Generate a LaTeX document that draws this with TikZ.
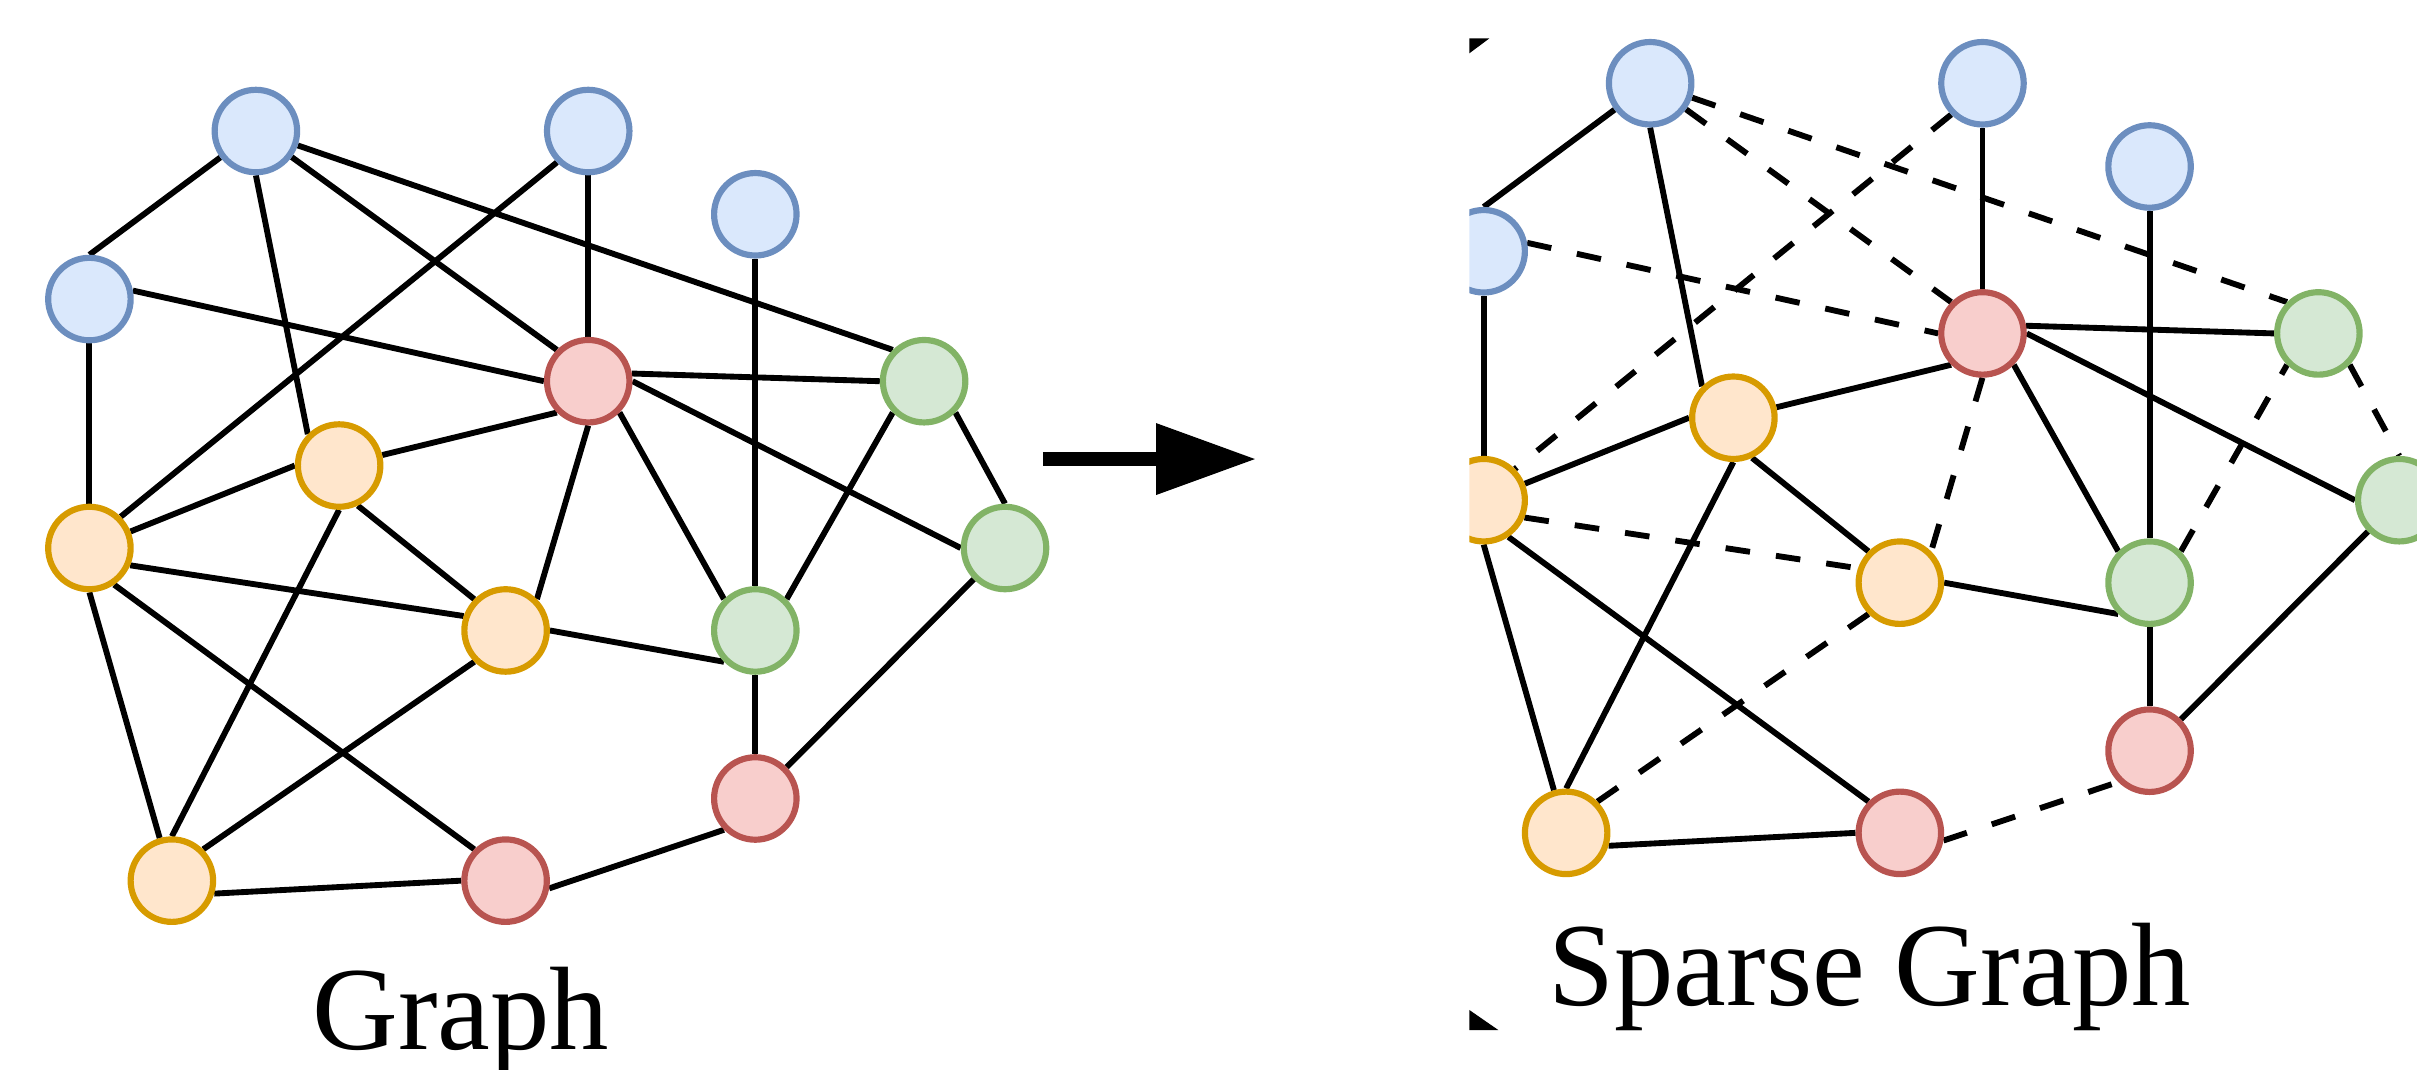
\documentclass[tikz,border=0pt]{standalone}
\usepackage{fontspec}
\setmainfont{Liberation Serif}
\usetikzlibrary{arrows.meta}
\definecolor{bfill}{HTML}{DAE8FC}\definecolor{bdraw}{HTML}{6C8EBF}
\definecolor{rfill}{HTML}{F8CECC}\definecolor{rdraw}{HTML}{B85450}
\definecolor{gfill}{HTML}{D5E8D4}\definecolor{gdraw}{HTML}{82B366}
\definecolor{ofill}{HTML}{FFE6CC}\definecolor{odraw}{HTML}{D79B00}
\pgfdeclarelayer{bg}
\pgfsetlayers{bg,main}
\begin{document}
\begin{tikzpicture}[x=1pt,y=-1pt,
  vtx/.style={circle,minimum size=53.5pt,inner sep=0pt,line width=4pt},
  vb/.style={vtx,fill=bfill,draw=bdraw},
  vr/.style={vtx,fill=rfill,draw=rdraw},
  vg/.style={vtx,fill=gfill,draw=gdraw},
  vo/.style={vtx,fill=ofill,draw=odraw},
  edge/.style={line width=3.8pt,black},
  dsh/.style={edge,dash pattern=on 16pt off 17pt},
  lbl/.style={font=\fontsize{77}{90}\selectfont,inner sep=0pt,anchor=base}]
\useasboundingbox (0,0) rectangle (1568,694);
% ---------- left graph ----------
\node[vb] (B1) at (166,85) {};
\node[vb] (B2) at (381.6,85) {};
\node[vb] (B3) at (490,139) {};
\node[vb] (B4) at (58,194) {};
\node[vr] (R1) at (381.6,247.3) {};
\node[vg] (G1) at (599.5,247.3) {};
\node[vo] (O1) at (220,302) {};
\node[vo] (O2) at (58,355.5) {};
\node[vg] (G2) at (652,355.5) {};
\node[vo] (O3) at (328,409) {};
\node[vg] (G3) at (490,409) {};
\node[vr] (R2) at (490,518) {};
\node[vo] (O4) at (111.5,571.3) {};
\node[vr] (R3) at (328,571.3) {};
% ---------- right graph (clipped) ----------
\begin{scope}
\clip (953.2,24.9) rectangle (1568,668.2);
\begin{scope}[shift={(904.5,-31)}]
\node[vb] (b1) at (166,85) {};
\node[vb] (b2) at (381.6,85) {};
\node[vb] (b3) at (490,139) {};
\node[vb] (b4) at (58,194) {};
\node[vr] (r1) at (381.6,247.3) {};
\node[vg] (g1) at (599.5,247.3) {};
\node[vo] (o1) at (220,302) {};
\node[vo] (o2) at (58,355.5) {};
\node[vg] (g2) at (652,355.5) {};
\node[vo] (o3) at (328,409) {};
\node[vg] (g3) at (490,409) {};
\node[vr] (r2) at (490,518) {};
\node[vo] (o4) at (111.5,571.3) {};
\node[vr] (r3) at (328,571.3) {};
\end{scope}
\end{scope}
% ---------- edges ----------
\begin{pgfonlayer}{bg}
\draw[edge] (B1) -- (B4.north);
\draw[edge] (B1.south) -- (O1.north west);
\draw[edge] (B1) -- (R1.north west);
\draw[edge] (B1) -- (G1.north west);
\draw[edge] (B2) -- (R1);
\draw[edge] (B2.south west) -- (O2.north east);
\draw[edge] (B3) -- (G3);
\draw[edge] (B4.11) -- (R1.west);
\draw[edge] (B4) -- (O2);
\draw[edge] (R1.10) -- (G1.west);
\draw[edge] (O1) -- (R1.south west);
\draw[edge] (R1.south) -- (O3.north east);
\draw[edge] (R1.south east) -- (G3.north west);
\draw[edge] (R1.east) -- (G2.west);
\draw[edge] (G3.north east) -- (G1.south west);
\draw[edge] (G1.south east) -- (G2.north);
\draw[edge] (O2) -- (O1.west);
\draw[edge] (O1.south) -- (O4.north);
\draw[edge] (O1.-65) -- (O3.north west);
\draw[edge] (O2.-23) -- (O3.161);
\draw[edge] (O2.-56) -- (R3.north west);
\draw[edge] (O2.south) -- (O4);
\draw[edge] (O4.north east) -- (O3.south west);
\draw[edge] (O4.-17) -- (R3.west);
\draw[edge] (R3.-10) -- (R2.south west);
\draw[edge] (R2) -- (G3);
\draw[edge] (R2.north east) -- (G2.south west);
\draw[edge] (O3.east) -- (G3.south west);
\begin{scope}
\clip (953.2,24.9) rectangle (1568,668.2);
\draw[edge] (b1) -- (b4.north);
\draw[edge] (b1.south) -- (o1.north west);
\draw[dsh] (b1) -- (r1.north west);
\draw[dsh] (b1) -- (g1.north west);
\draw[edge] (b2) -- (r1);
\draw[dsh] (b2.south west) -- (o2.north east);
\draw[edge] (b3) -- (g3);
\draw[dsh] (b4.11) -- (r1.west);
\draw[edge] (b4) -- (o2);
\draw[edge] (r1.10) -- (g1.west);
\draw[edge] (o1) -- (r1.south west);
\draw[dsh] (r1.south) -- (o3.north east);
\draw[edge] (r1.south east) -- (g3.north west);
\draw[edge] (r1.east) -- (g2.west);
\draw[dsh] (g3.north east) -- (g1.south west);
\draw[dsh] (g1.south east) -- (g2.north);
\draw[edge] (o2) -- (o1.west);
\draw[edge] (o1.south) -- (o4.north);
\draw[edge] (o1.-65) -- (o3.north west);
\draw[dsh] (o2.-23) -- (o3.161);
\draw[edge] (o2.-56) -- (r3.north west);
\draw[edge] (o2.south) -- (o4);
\draw[dsh] (o4.north east) -- (o3.south west);
\draw[edge] (o4.-17) -- (r3.west);
\draw[dsh] (r3.-10) -- (r2.south west);
\draw[edge] (r2) -- (g3);
\draw[edge] (r2.north east) -- (g2.south west);
\draw[edge] (o3.east) -- (g3.south west);
\end{scope}
\end{pgfonlayer}
% ---------- corner marks of the cropped picture ----------
\fill[black] (953.2,24.9) -- (966.2,24.9) -- (953.2,34.6) -- cycle;
\fill[black] (953.2,655.2) -- (953.2,668.2) -- (972,668.2) -- cycle;
% ---------- arrow ----------
\coordinate (a1) at (676.6,297.8);
\coordinate (a2) at (815,297.8);
\draw[line width=9pt,-{Triangle[length=65pt,width=44pt]}] (a1) -- (a2);
% ---------- labels ----------
\node[lbl] (t1) at (299,681) {Graph};
\node[lbl] (t2) at (1213,652) {Sparse Graph};
\end{tikzpicture}
\end{document}
